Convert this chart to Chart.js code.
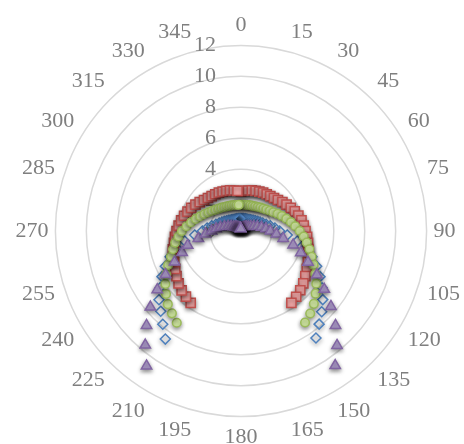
<!DOCTYPE html>
<html>
<head>
<meta charset="utf-8">
<script src="https://cdn.jsdelivr.net/npm/chart.js@4/dist/chart.umd.min.js"></script>
<style>
  html, body { margin: 0; padding: 0; background: #fff; overflow: hidden; }
  #wrap { width: 464px; height: 444px; overflow: hidden; }
</style>
</head>
<body>
<div id="wrap"><canvas id="polar" width="464" height="450"></canvas></div>
<script>
// categories: every 5 degrees, only multiples of 15 get a label
const angles = [
  0, 5, 10, 15, 20, 25, 30, 35, 40, 45, 50, 55, 60, 65, 70, 75, 80, 85,
  90, 95, 100, 105, 110, 115, 120, 125, 130, 135, 140, 145, 150, 155, 160, 165, 170, 175,
  180, 185, 190, 195, 200, 205, 210, 215, 220, 225, 230, 235, 240, 245, 250, 255, 260, 265,
  270, 275, 280, 285, 290, 295, 300, 305, 310, 315, 320, 325, 330, 335, 340, 345, 350, 355
];
const radialTicks = [0, 2, 4, 6, 8, 10, 12];

// values 0..145, gap 150..210, then 215..355
const seriesBlue = [
  0.80, 0.80, 0.81, 0.82, 0.84, 0.86, 0.88, 0.91, 0.95, 1.00, 1.07, 1.15, 1.25, 1.36, 1.50,
  1.68, 1.92, 2.20, 2.50, 3.00, 3.70, 4.30, 4.88, 5.40, 5.90, 6.40, 6.90, 7.38, 7.86, 8.45,
  null, null, null, null, null, null, null, null, null, null, null, null, null,
  8.53, 7.87, 7.34, 6.92, 6.37, 5.90, 5.40, 4.88, 4.30, 3.70, 3.00, 2.50, 2.20, 1.92, 1.68,
  1.50, 1.36, 1.25, 1.15, 1.07, 1.00, 0.95, 0.91, 0.88, 0.86, 0.84, 0.82, 0.81, 0.80
];
const seriesRed = [
  2.55, 2.60, 2.66, 2.72, 2.76, 2.81, 2.86, 2.90, 2.95, 3.02, 3.12, 3.27, 3.40, 3.55, 3.70,
  3.84, 3.97, 4.07, 4.17, 4.29, 4.40, 4.52, 4.64, 4.77, 4.91, 5.08, 5.26, 5.42, 5.55, 5.68,
  null, null, null, null, null, null, null, null, null, null, null, null, null,
  5.67, 5.54, 5.43, 5.27, 5.09, 4.91, 4.77, 4.65, 4.56, 4.40, 4.29, 4.17, 4.05, 3.93, 3.81,
  3.68, 3.55, 3.40, 3.26, 3.12, 3.02, 2.95, 2.90, 2.86, 2.81, 2.76, 2.72, 2.66, 2.60
];
const seriesGreen = [
  1.69, 1.70, 1.71, 1.73, 1.76, 1.79, 1.84, 1.90, 1.97, 2.05, 2.15, 2.28, 2.42, 2.62, 2.82,
  3.04, 3.28, 3.52, 3.80, 4.07, 4.32, 4.58, 4.86, 5.18, 5.55, 5.94, 6.30, 6.66, 6.96, 7.22,
  null, null, null, null, null, null, null, null, null, null, null, null, null,
  7.24, 6.95, 6.69, 6.33, 5.97, 5.58, 5.20, 4.82, 4.55, 4.32, 4.06, 3.82, 3.53, 3.27, 3.02,
  2.80, 2.60, 2.42, 2.28, 2.15, 2.05, 1.97, 1.90, 1.84, 1.79, 1.76, 1.73, 1.71, 1.70
];
const seriesPurple = [
  0.15, 0.15, 0.16, 0.17, 0.18, 0.20, 0.22, 0.25, 0.28, 0.32, 0.37, 0.44, 0.55, 0.70, 0.88,
  1.10, 1.35, 1.62, 1.90, 2.30, 2.77, 3.49, 4.11, 4.78, 5.66, 6.57, 7.59, 8.64, 9.66, 10.62,
  null, null, null, null, null, null, null, null, null, null, null, null, null,
  10.65, 9.63, 8.64, 7.65, 6.61, 5.63, 4.74, 4.05, 3.57, 2.80, 2.30, 1.90, 1.62, 1.35, 1.10,
  0.88, 0.70, 0.55, 0.44, 0.37, 0.32, 0.28, 0.25, 0.22, 0.20, 0.18, 0.17, 0.16, 0.15
];

const textGray = "#7f7f7f";
const serif = "'Liberation Serif', 'Times New Roman', serif";
const fontSize = 22;

// radial tick labels sit left of the vertical axis, then markers get a soft shadow
const tickAndShadow = {
  id: "tickAndShadow",
  beforeDatasetsDraw(chart) {
    const s = chart.scales.r;
    const ctx = chart.ctx;
    ctx.save();
    ctx.font = `${fontSize}px ${serif}`;
    ctx.fillStyle = textGray;
    ctx.textAlign = "right";
    ctx.textBaseline = "middle";
    for (const v of radialTicks) {
      const d = s.getDistanceFromCenterForValue(v);
      ctx.fillText(String(v), s.xCenter - 25, s.yCenter - d);
    }
    ctx.restore();
    ctx.save();
    ctx.shadowColor = "rgba(0,0,0,0.45)";
    ctx.shadowBlur = 4;
    ctx.shadowOffsetX = 0;
    ctx.shadowOffsetY = 2;
  },
  afterDatasetsDraw(chart) {
    chart.ctx.restore();
  }
};

function markerSet(data, style, radius, fill, stroke, order) {
  return {
    data,
    pointStyle: style,
    pointRadius: radius,
    pointHoverRadius: radius,
    pointBackgroundColor: fill,
    pointBorderColor: stroke,
    pointBorderWidth: 1.5,
    showLine: false,
    fill: false,
    order
  };
}

new Chart(document.getElementById("polar"), {
  type: "radar",
  data: {
    labels: angles.map(String),
    datasets: [
      markerSet(seriesBlue, "rectRot", 5, "rgba(255,255,255,0)", "#4f81bd", 4),
      markerSet(seriesRed, "rect", 6.5, "#f4a9a8", "#c0504d", 3),
      markerSet(seriesGreen, "circle", 4.3, "#d7efa6", "#9bbb59", 2),
      markerSet(seriesPurple, "triangle", 6, "#b7a5d6", "#8064a2", 1)
    ]
  },
  options: {
    responsive: false,
    animation: false,
    layout: { padding: { left: 12, top: 12, right: 0, bottom: 0 } },
    plugins: { legend: { display: false }, tooltip: { enabled: false } },
    scales: {
      r: {
        min: 0,
        max: 12,
        ticks: { stepSize: 2, display: false },
        angleLines: { display: false },
        grid: { circular: true, color: "#d9d9d9", lineWidth: 1.5 },
        pointLabels: {
          color: textGray,
          padding: 7,
          font: { family: serif, size: fontSize },
          callback: (label, i) => (angles[i] % 15 === 0 ? label : "")
        }
      }
    }
  },
  plugins: [tickAndShadow]
});
</script>
</body>
</html>
